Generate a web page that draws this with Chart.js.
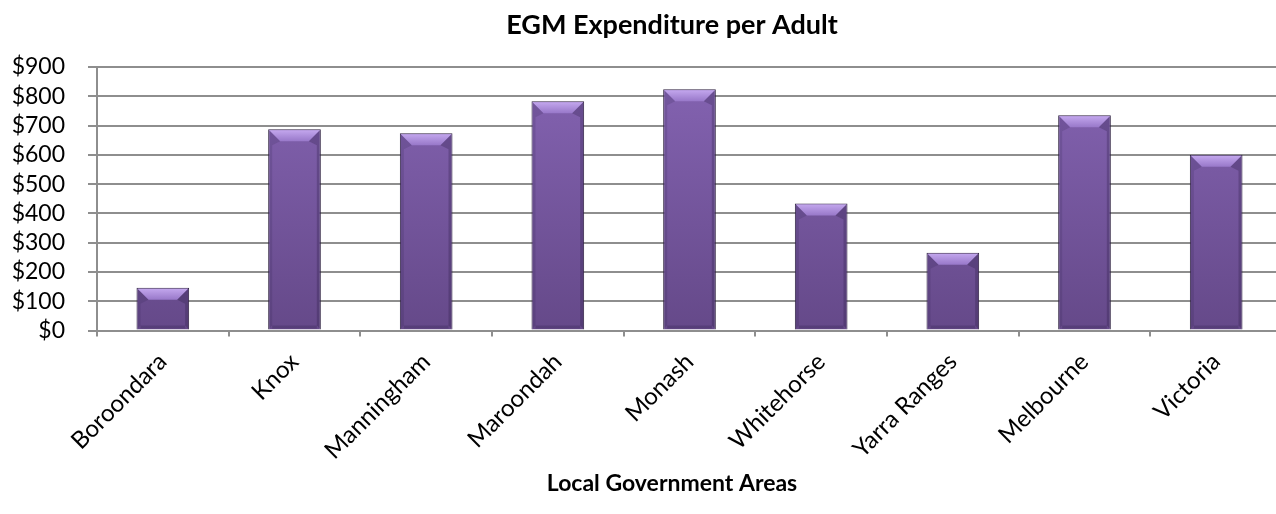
<!DOCTYPE html>
<html>
<head>
<meta charset="utf-8">
<script src="https://cdn.jsdelivr.net/npm/chart.js@4.4.0/dist/chart.umd.min.js"></script>
<style>
  html, body { margin: 0; padding: 0; background: #fff; overflow: hidden; }
  #wrap { width: 1282px; height: 514px; }
</style>
</head>
<body>
<div id="wrap"><canvas id="myChart" width="1282" height="514"></canvas></div>
<script>
var areas = ['Boroondara', 'Knox', 'Manningham', 'Maroondah', 'Monash', 'Whitehorse', 'Yarra Ranges', 'Melbourne', 'Victoria'];
var spendPerAdult = [146, 687, 674, 783, 824, 434, 266, 735, 600];
var yTicks = [0, 100, 200, 300, 400, 500, 600, 700, 800, 900];
var chartTitle = 'EGM Expenditure per Adult';
var xTitle = 'Local Government Areas';

// bevel look for the bars, drawn over each bar the library placed
var bevel = {
    id: 'bevel',
    afterDatasetsDraw: function (chart) {
        var c = chart.ctx;
        chart.getDatasetMeta(0).data.forEach(function (bar) {
            var l = bar.x - bar.width / 2, r = bar.x + bar.width / 2;
            var t = bar.y, b = bar.base, d = 12, s = 4;
            c.save();
            // top facet
            var g = c.createLinearGradient(0, t, 0, t + d);
            g.addColorStop(0, '#c6aaf0');
            g.addColorStop(1, '#9878c9');
            c.fillStyle = g;
            c.beginPath();
            c.moveTo(l + 1, t + 1); c.lineTo(r - 1, t + 1); c.lineTo(r - d, t + d); c.lineTo(l + d, t + d);
            c.closePath(); c.fill();
            // right edge
            c.fillStyle = 'rgba(30,18,55,0.25)';
            c.beginPath();
            c.moveTo(r - 1, t + 1); c.lineTo(r - d, t + d); c.lineTo(r - s, t + d + 4);
            c.lineTo(r - s, b - s); c.lineTo(r - 1, b - 1);
            c.closePath(); c.fill();
            // left edge
            c.fillStyle = 'rgba(30,18,55,0.14)';
            c.beginPath();
            c.moveTo(l + 1, t + 1); c.lineTo(l + d, t + d); c.lineTo(l + s, t + d + 4);
            c.lineTo(l + s, b - s); c.lineTo(l + 1, b - 1);
            c.closePath(); c.fill();
            // bottom edge
            c.fillStyle = 'rgba(30,18,55,0.2)';
            c.fillRect(l + s, b - s, bar.width - 2 * s, s - 1);
            c.restore();
        });
    }
};

// chart title and axis title, centred like the original
var titles = {
    id: 'titles',
    afterDraw: function (chart) {
        var c = chart.ctx;
        c.save();
        c.fillStyle = '#000';
        c.textAlign = 'center';
        c.textBaseline = 'alphabetic';
        c.font = 'bold 27px Lato';
        c.fillText(chartTitle, 672, 34);
        c.font = 'bold 23px Lato';
        c.fillText(xTitle, 672, 491);
        c.restore();
    }
};

var ctx = document.getElementById('myChart').getContext('2d');
var myChart = new Chart(ctx, {
    type: 'bar',
    data: {
        labels: areas,
        datasets: [{
            label: chartTitle,
            data: spendPerAdult,
            backgroundColor: function (context) {
                var area = context.chart.chartArea;
                if (!area) return '#7656a0';
                var g = context.chart.ctx.createLinearGradient(0, area.top, 0, area.bottom);
                g.addColorStop(0, '#8564b3');
                g.addColorStop(1, '#654989');
                return g;
            },
            borderColor: '#2e2140',
            borderWidth: 1,
            barPercentage: 0.4,
            categoryPercentage: 1
        }]
    },
    options: {
        responsive: false,
        animation: false,
        layout: { autoPadding: false, padding: { left: 12, right: 0, top: 67, bottom: 38 } },
        plugins: {
            legend: { display: false },
            tooltip: { enabled: false },
            title: { display: false }
        },
        scales: {
            x: {
                grid: { drawOnChartArea: false, color: '#8e8e8e', tickLength: 6, lineWidth: 2 },
                border: { color: '#8e8e8e', width: 2 },
                ticks: {
                    color: '#000',
                    font: { family: 'Lato', size: 24 },
                    maxRotation: 45, minRotation: 45,
                    padding: 11
                }
            },
            y: {
                min: 0,
                max: 900,
                afterBuildTicks: function (axis) {
                    axis.ticks = yTicks.map(function (v) { return { value: v }; });
                },
                afterFit: function (axis) { axis.width = 85; },
                grid: { color: '#8e8e8e', lineWidth: 2, tickLength: 9 },
                border: { color: '#8e8e8e', width: 2 },
                ticks: {
                    color: '#000',
                    font: { family: 'Lato', size: 23 },
                    padding: 23,
                    autoSkip: false,
                    callback: function (v) { return '$' + v; }
                }
            }
        }
    },
    plugins: [bevel, titles]
});
</script>
</body>
</html>
